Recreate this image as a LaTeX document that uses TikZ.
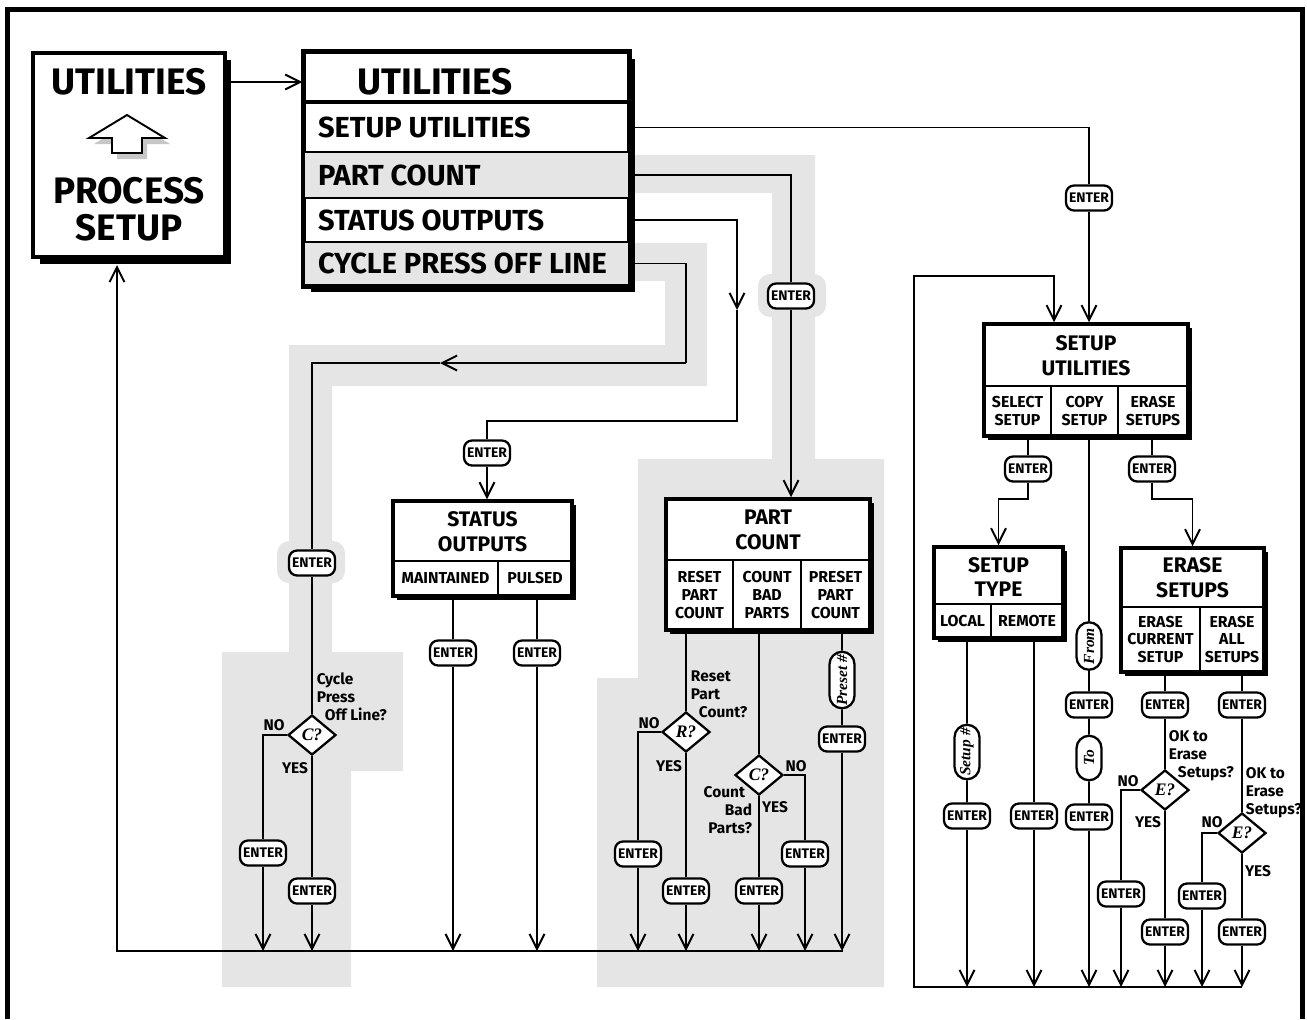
\documentclass[tikz,border=0pt]{standalone}
\usepackage{fontspec}
\setmainfont{Fira Sans}
\newfontfamily\serifit{Liberation Serif}
\usetikzlibrary{arrows.meta,shapes.geometric,shapes.misc,shadows}

\newcommand{\fbig}{\fontsize{21pt}{21pt}\selectfont\bfseries}
\newcommand{\frow}{\fontsize{16.5pt}{18pt}\selectfont\bfseries}
\newcommand{\fhead}{\fontsize{12pt}{14.2pt}\selectfont\bfseries}
\newcommand{\fcell}{\fontsize{9pt}{10pt}\selectfont\bfseries}
\newcommand{\fask}{\fontsize{8.8pt}{10.2pt}\selectfont\bfseries}
\newcommand{\fenter}{\fontsize{7.9pt}{8pt}\selectfont\bfseries}
\newcommand{\fsym}{\serifit\fontsize{10pt}{10pt}\selectfont\bfseries\itshape}
\newcommand{\fcap}{\serifit\fontsize{8.8pt}{8.8pt}\selectfont\bfseries\itshape}

\tikzset{
  panel/.style={draw, line width=2pt, fill=white, inner sep=0pt,
    drop shadow={shadow xshift=0.08cm, shadow yshift=-0.08cm, fill=black, opacity=1}},
  bigpanel/.style={draw, line width=2pt, fill=white, inner sep=0pt,
    drop shadow={shadow xshift=0.13cm, shadow yshift=-0.14cm, fill=black, opacity=1}},
  rowcell/.style={draw, line width=1.1pt, minimum width=6.5cm, inner sep=0pt},
  rowtext/.style={anchor=west, inner sep=0pt, font=\frow},
  cell/.style={draw, line width=1.1pt, inner sep=0pt, align=center, font=\fcell},
  headtext/.style={inner sep=0pt, align=center, font=\fhead},
  enterbtn/.style={draw, fill=white, line width=1.3pt, rounded corners=0.16cm,
    minimum width=0.92cm, minimum height=0.5cm, inner sep=0pt, font=\fenter},
  askbox/.style={diamond, draw, fill=white, line width=1.3pt, minimum width=0.96cm,
    minimum height=0.8cm, inner sep=0pt, font=\fsym},
  capsule/.style={rounded rectangle, draw, fill=white, line width=1.3pt, rotate=90,
    minimum width=1.0cm, minimum height=0.5cm, inner xsep=1pt, inner ysep=0pt, font=\fcap},
  lbl/.style={inner sep=0pt, font=\fask},
  band/.style={fill=black!10},
}

\begin{document}
\begin{tikzpicture}[x=0.02cm, y=-0.02cm, line width=1.1pt,
  >={Straight Barb[length=8.5pt, width=8.5pt]}]
\useasboundingbox (0,0) rectangle (1307,1019);

    % ==========================================
    % 0. GREY BANDS
    % ==========================================
    \fill[band] (630,155) -- (815,155) -- (815,459) -- (884,459) -- (884,987)
      -- (597,987) -- (597,678) -- (638,678) -- (638,459) -- (772,459)
      -- (772,193) -- (630,193) -- cycle;
    \fill[band, rounded corners=0.24cm] (758,274) rectangle (826,317);
    \fill[band] (630,243) -- (707,243) -- (707,386) -- (332,386) -- (332,652)
      -- (403,652) -- (403,771) -- (351,771) -- (351,987) -- (222,987)
      -- (222,652) -- (289,652) -- (289,345) -- (665,345) -- (665,281)
      -- (630,281) -- cycle;
    \fill[band, rounded corners=0.24cm] (277,541) rectangle (345,583);

    % outer frame
    \draw[line width=3pt] (7.5,1019) -- (7.5,9.5) -- (1302.5,9.5) -- (1302.5,1019);

    % bus lines
    \coordinate (bl) at (117,951);
    \coordinate (blr) at (843,951);
    \coordinate (pstip) at (117,265);
    \coordinate (br) at (914,987);
    \coordinate (brr) at (1242,987);
    \coordinate (lp) at (1054,276);

    % ==========================================
    % 1. UTILITIES / PROCESS SETUP
    % ==========================================
    \node[bigpanel, minimum width=3.84cm, minimum height=4.08cm] (ps) at (129,155) {};
    \node[font=\fbig, inner sep=0pt] (psu) at (129,82) {UTILITIES};
    \node[font=\fbig, inner sep=0pt, align=center] (psp) at (129,209) {PROCESS\\SETUP};
    \fill[black!22] (132,121) -- (170,144) -- (147,144) -- (147,159) -- (117,159)
      -- (117,144) -- (94,144) -- cycle;
    \draw[fill=white] (127,115) -- (165,138) -- (142,138) -- (142,153) -- (112,153)
      -- (112,138) -- (89,138) -- cycle;

    % ==========================================
    % 2. UTILITIES MENU
    % ==========================================
    \node[bigpanel, minimum width=6.5cm, minimum height=4.66cm] (um) at (466.5,168.5) {};
    \node[font=\fbig, inner sep=0pt] (umt) at (435,82) {UTILITIES};
    \node[rowcell, minimum height=0.98cm] (rsu) at (466.5,127.5) {};
    \node[rowcell, minimum height=0.92cm, fill=black!10] (rpc) at (466.5,175) {};
    \node[rowcell, minimum height=0.88cm] (rso) at (466.5,220) {};
    \node[rowcell, minimum height=0.86cm, fill=black!10] (rcy) at (466.5,263.5) {};
    \node[rowtext] at ([xshift=0.28cm]rsu.west) {SETUP UTILITIES};
    \node[rowtext] at ([xshift=0.28cm]rpc.west) {PART COUNT};
    \node[rowtext] at ([xshift=0.28cm]rso.west) {STATUS OUTPUTS};
    \node[rowtext] at ([xshift=0.28cm]rcy.west) {CYCLE PRESS OFF LINE};
    \draw[line width=1.8pt] (rsu.north west) -- (rsu.north east);
    \draw[line width=2pt] (um.north west) rectangle (um.south east);

    \draw[->] (ps.east |- psu) -- (um.west |- psu);
    \draw[->] (blr) -- (bl) -- (pstip);

    % ==========================================
    % 3. CYCLE PRESS OFF LINE
    % ==========================================
    \coordinate (cy1) at (686,363);
    \coordinate (cy2) at (440,363);
    \node[enterbtn] (ecy) at (312,563) {ENTER};
    \node[askbox] (acy) at (312,735) {C?};
    \node[enterbtn] (ecyn) at (263,853) {ENTER};
    \node[enterbtn] (ecyy) at (312,891) {ENTER};
    \node[lbl, anchor=north west, align=left] at (316,672) {Cycle\\Press\\\hspace*{0.16cm}Off Line?};
    \node[lbl] at (274,725) {NO};
    \node[lbl] at (295,768) {YES};

    \draw (um.east |- rcy) -| (cy1);
    \draw[->] (cy1) -- (cy2);
    \draw (cy2) -| (ecy);
    \draw (ecy) -- (acy);
    \draw (acy.west) -| (ecyn);
    \draw (acy) -- (ecyy);
    \draw[->] (ecyn) -- (ecyn |- bl);
    \draw[->] (ecyy) -- (ecyy |- bl);

    % ==========================================
    % 4. STATUS OUTPUTS
    % ==========================================
    \node[panel, minimum width=3.58cm, minimum height=1.9cm] (so) at (482.5,548.5) {};
    \node[headtext] (sot) at (482.5,532) {STATUS\\OUTPUTS};
    \node[cell, minimum width=2.1cm, minimum height=0.7cm] (somt) at (445.5,578.5) {MAINTAINED};
    \node[cell, minimum width=1.48cm, minimum height=0.7cm] (sopu) at (535,578.5) {PULSED};

    \coordinate (so1) at (737,310);
    \coordinate (so2) at (737,421);
    \node[enterbtn] (eso) at (487,453) {ENTER};
    \node[enterbtn] (esmt) at (453,653) {ENTER};
    \node[enterbtn] (espu) at (537,653) {ENTER};

    \draw[->] (um.east |- rso) -| (so1);
    \draw (so1) -- (so2) -| (eso);
    \draw[->] (eso) -- (eso |- so.north);
    \draw (esmt |- so.south) -- (esmt);
    \draw (espu |- so.south) -- (espu);
    \draw[->] (esmt) -- (esmt |- bl);
    \draw[->] (espu) -- (espu |- bl);

    % ==========================================
    % 5. PART COUNT
    % ==========================================
    \node[panel, minimum width=4.08cm, minimum height=2.62cm] (pc) at (768,564.5) {};
    \node[headtext] (pct) at (768,530) {PART\\COUNT};
    \node[cell, minimum width=1.34cm, minimum height=1.4cm] (pcrs) at (699.5,595) {RESET\\PART\\COUNT};
    \node[cell, minimum width=1.36cm, minimum height=1.4cm] (pcbd) at (767,595) {COUNT\\BAD\\PARTS};
    \node[cell, minimum width=1.38cm, minimum height=1.4cm] (pcpr) at (835.5,595) {PRESET\\PART\\COUNT};

    \node[enterbtn] (epc) at (791,296) {ENTER};
    \node[askbox] (ars) at (686,732) {R?};
    \node[enterbtn] (ersn) at (638,854) {ENTER};
    \node[enterbtn] (ersy) at (686,891) {ENTER};
    \node[askbox] (abd) at (759,775) {C?};
    \node[enterbtn] (ebdn) at (805,854) {ENTER};
    \node[enterbtn] (ebdy) at (759,891) {ENTER};
    \node[capsule, minimum width=1.2cm] (cpr) at (842,680) {Preset \#};
    \node[enterbtn] (epr) at (842,739) {ENTER};

    \node[lbl, anchor=north west, align=left] at (690,670) {Reset\\Part\\\hspace*{0.16cm}Count?};
    \node[lbl] at (649,723) {NO};
    \node[lbl] at (669,766) {YES};
    \node[lbl, anchor=north east, align=right] at (753,786) {Count\hspace*{0.14cm}\\Bad\\Parts?};
    \node[lbl] at (796,766) {NO};
    \node[lbl] at (775,807) {YES};

    \draw (um.east |- rpc) -| (epc);
    \draw[->] (epc) -- (epc |- pc.north);
    \draw (ars |- pc.south) -- (ars);
    \draw (ars.west) -| (ersn);
    \draw (ars) -- (ersy);
    \draw (abd |- pc.south) -- (abd);
    \draw (abd.east) -| (ebdn);
    \draw (abd) -- (ebdy);
    \draw (cpr |- pc.south) -- (cpr) -- (epr);
    \draw[->] (ersn) -- (ersn |- bl);
    \draw[->] (ersy) -- (ersy |- bl);
    \draw[->] (ebdy) -- (ebdy |- bl);
    \draw[->] (ebdn) -- (ebdn |- bl);
    \draw[->] (epr) -- (epr |- bl);

    % ==========================================
    % 6. SETUP UTILITIES
    % ==========================================
    \node[panel, minimum width=4.08cm, minimum height=2.24cm] (su) at (1086,380) {};
    \node[headtext] (sut) at (1086,356) {SETUP\\UTILITIES};
    \node[cell, minimum width=1.34cm, minimum height=1.0cm] (susl) at (1017.5,411) {SELECT\\SETUP};
    \node[cell, minimum width=1.34cm, minimum height=1.0cm] (sucp) at (1084.5,411) {COPY\\SETUP};
    \node[cell, minimum width=1.4cm, minimum height=1.0cm] (suer) at (1153,411) {ERASE\\SETUPS};

    \node[enterbtn] (esu) at (1089,198) {ENTER};
    \draw (um.east |- rsu) -| (esu);
    \draw[->] (esu) -- (esu |- su.north);
    \draw[->] (brr) -- (br) |- (lp) -- (lp |- su.north);

    % SETUP TYPE
    \node[panel, minimum width=2.58cm, minimum height=1.82cm] (st) at (998.5,592.5) {};
    \node[headtext] (stt) at (998.5,577) {SETUP\\TYPE};
    \node[cell, minimum width=1.14cm, minimum height=0.68cm] (stlc) at (962.5,621) {LOCAL};
    \node[cell, minimum width=1.44cm, minimum height=0.68cm] (strm) at (1027,621) {REMOTE};

    \node[enterbtn] (esl) at (1028,469) {ENTER};
    \coordinate (sl1) at (1028,499);
    \draw (esl |- su.south) -- (esl);
    \draw[->] (esl) -- (sl1) -| (st.north);

    \node[capsule, minimum width=1.16cm] (cst) at (967,752) {Setup \#};
    \node[enterbtn] (elc) at (967,816) {ENTER};
    \node[enterbtn] (erm) at (1034,816) {ENTER};
    \draw (cst |- st.south) -- (cst) -- (elc);
    \draw (erm |- st.south) -- (erm);
    \draw[->] (elc) -- (elc |- br);
    \draw[->] (erm) -- (erm |- br);

    % COPY SETUP
    \node[capsule, minimum width=1.02cm] (cfr) at (1089,646) {From};
    \node[enterbtn] (ecp1) at (1089,705) {ENTER};
    \node[capsule, minimum width=0.96cm] (cto) at (1089,758) {To};
    \node[enterbtn] (ecp2) at (1089,817) {ENTER};
    \draw (cfr |- su.south) -- (cfr) -- (ecp1) -- (cto) -- (ecp2);
    \draw[->] (ecp2) -- (ecp2 |- br);

    % ERASE SETUPS
    \node[panel, minimum width=2.86cm, minimum height=2.48cm] (es) at (1192.5,610) {};
    \node[headtext] (est) at (1192.5,578) {ERASE\\SETUPS};
    \node[cell, minimum width=1.58cm, minimum height=1.3cm] (escr) at (1160.5,639.5) {ERASE\\CURRENT\\SETUP};
    \node[cell, minimum width=1.28cm, minimum height=1.3cm] (esal) at (1232,639.5) {ERASE\\ALL\\SETUPS};

    \node[enterbtn] (eer) at (1152,469) {ENTER};
    \coordinate (er1) at (1152,499);
    \draw (eer |- su.south) -- (eer);
    \draw[->] (eer) -- (er1) -| (es.north);

    \node[enterbtn] (ecr) at (1165,705) {ENTER};
    \node[askbox] (acr) at (1165,790) {E?};
    \node[enterbtn] (ecrn) at (1121,894) {ENTER};
    \node[enterbtn] (ecry) at (1165,932) {ENTER};
    \node[lbl, anchor=north west, align=left] at (1168,730) {OK to\\Erase\\\hspace*{0.18cm}Setups?};
    \node[lbl] at (1128,781) {NO};
    \node[lbl] at (1148,822) {YES};
    \draw (ecr |- es.south) -- (ecr) -- (acr);
    \draw (acr.west) -| (ecrn);
    \draw (acr) -- (ecry);
    \draw[->] (ecrn) -- (ecrn |- br);
    \draw[->] (ecry) -- (ecry |- br);

    \node[enterbtn] (eal) at (1242,705) {ENTER};
    \node[askbox] (aal) at (1242,833) {E?};
    \node[enterbtn] (ealn) at (1202,896) {ENTER};
    \node[enterbtn] (ealy) at (1242,932) {ENTER};
    \node[lbl, anchor=north west, align=left] at (1245,767) {OK to\\Erase\\Setups?};
    \node[lbl] at (1212,822) {NO};
    \node[lbl] at (1258,871) {YES};
    \draw (eal |- es.south) -- (eal) -- (aal);
    \draw (aal.west) -| (ealn);
    \draw (aal) -- (ealy);
    \draw[->] (ealn) -- (ealn |- br);
    \draw[->] (ealy) -- (ealy |- br);

\end{tikzpicture}
\end{document}
